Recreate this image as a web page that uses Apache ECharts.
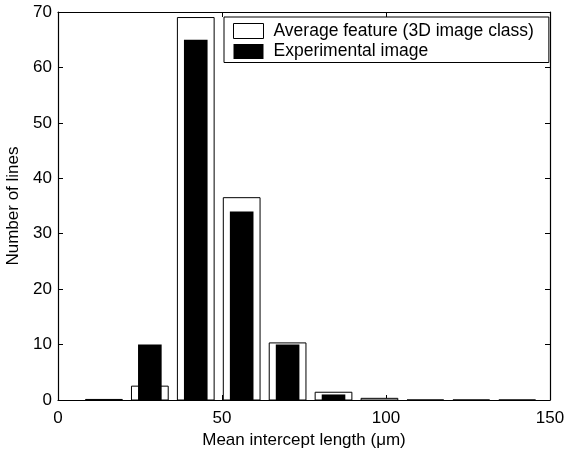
<!DOCTYPE html>
<html>
<head>
<meta charset="utf-8">
<script src="https://cdn.jsdelivr.net/npm/echarts@6/dist/echarts.min.js"></script>
<style>html,body{margin:0;padding:0;background:#fff}#c{width:565px;height:452px}</style>
</head>
<body>
<div id="c"></div>
<script>
const binCenters = [14, 28, 42, 56, 70, 84, 98, 112, 126, 140];
const averageFeature = [0.1, 2.5, 69, 36.5, 10.3, 1.4, 0.3, 0, 0, 0];
const experimental = [0, 10, 65, 34, 10, 1, 0, 0, 0, 0];
const xTicks = [0, 50, 100, 150];
const yTicks = [0, 10, 20, 30, 40, 50, 60, 70];
const seriesNames = ['Average feature (3D image class)', 'Experimental image'];

const FONT = 'Liberation Sans, Arial, Helvetica, sans-serif';
const WHITE_W = 11.2, BLACK_W = 7.2;

function barRenderer(width, fill, stroke, lw) {
  return function (params, api) {
    const x = api.value(0), y = api.value(1);
    const p0 = api.coord([x - width / 2, 0]);
    const p1 = api.coord([x + width / 2, y]);
    return {
      type: 'rect',
      shape: { x: p0[0], y: p1[1], width: p1[0] - p0[0], height: p0[1] - p1[1] },
      style: { fill: fill, stroke: stroke, lineWidth: lw }
    };
  };
}

const chart = echarts.init(document.getElementById('c'), null, { renderer: 'canvas' });
const axisCommon = {
  axisLine: { show: true, onZero: false, lineStyle: { color: '#000', width: 1.2 } },
  axisTick: { show: true, inside: true, length: 5, lineStyle: { color: '#000', width: 1 } },
  splitLine: { show: false }
};
chart.setOption({
  animation: false,
  backgroundColor: '#fff',
  grid: { left: 58, right: 15, top: 12, bottom: 52, containLabel: false, outerBoundsMode: 'none' },
  legend: {
    orient: 'vertical',
    left: 224, top: 17,
    padding: [5, 15, 2, 9],
    borderColor: '#000', borderWidth: 1,
    backgroundColor: '#fff',
    itemWidth: 30, itemHeight: 15, itemGap: 2.5,
    textStyle: { fontFamily: FONT, fontSize: 17.5, color: '#000', padding: [0, 0, 0, 5] },
    data: [
      { name: seriesNames[0], icon: 'rect', itemStyle: { color: '#fff', borderColor: '#000', borderWidth: 1 } },
      { name: seriesNames[1], icon: 'rect', itemStyle: { color: '#000', borderWidth: 0 } }
    ]
  },
  xAxis: [
    Object.assign({
      type: 'value', min: xTicks[0], max: xTicks[xTicks.length - 1], interval: 50,
      position: 'bottom',
      name: 'Mean intercept length (\u03bcm)', nameLocation: 'middle', nameGap: 30,
      nameTextStyle: { fontFamily: FONT, fontSize: 17, color: '#000' },
      axisLabel: { fontFamily: FONT, fontSize: 17, color: '#000', margin: 10 }
    }, axisCommon),
    Object.assign({
      type: 'value', min: xTicks[0], max: xTicks[xTicks.length - 1], interval: 50,
      position: 'top', axisLabel: { show: false }
    }, axisCommon)
  ],
  yAxis: [
    Object.assign({
      type: 'value', min: yTicks[0], max: yTicks[yTicks.length - 1], interval: 10,
      position: 'left',
      name: 'Number of lines', nameLocation: 'middle', nameGap: 33,
      nameTextStyle: { fontFamily: FONT, fontSize: 17, color: '#000' },
      axisLabel: { fontFamily: FONT, fontSize: 17, color: '#000', margin: 6 }
    }, axisCommon),
    Object.assign({
      type: 'value', min: yTicks[0], max: yTicks[yTicks.length - 1], interval: 10,
      position: 'right', axisLabel: { show: false }
    }, axisCommon)
  ],
  series: [
    {
      name: seriesNames[0], type: 'custom', xAxisIndex: 0, yAxisIndex: 0,
      itemStyle: { color: '#fff', borderColor: '#000' },
      renderItem: barRenderer(WHITE_W, '#fff', '#000', 1),
      data: binCenters.map((x, i) => [x, averageFeature[i]]),
      z: 2
    },
    {
      name: seriesNames[1], type: 'custom', xAxisIndex: 0, yAxisIndex: 0,
      itemStyle: { color: '#000' },
      renderItem: barRenderer(BLACK_W, '#000', null, 0),
      data: binCenters.map((x, i) => [x, experimental[i]]),
      z: 3
    }
  ]
});
</script>
</body>
</html>
